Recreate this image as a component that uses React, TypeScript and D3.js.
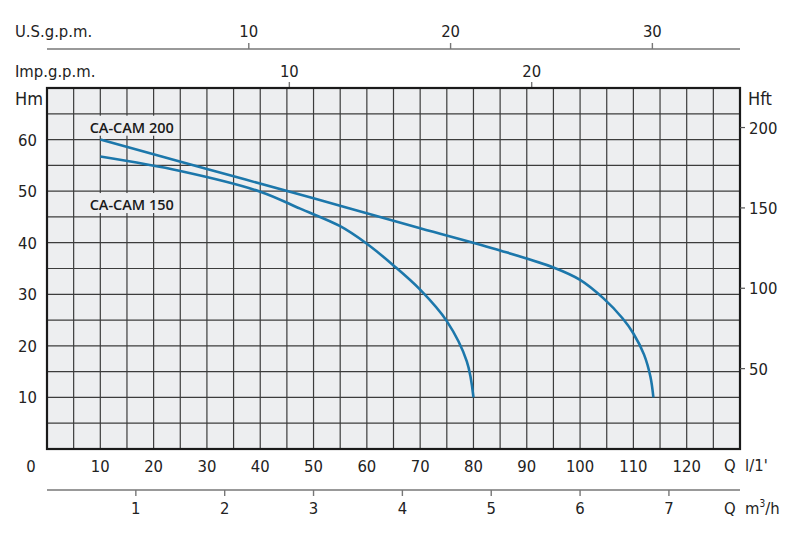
import React from "react";
import * as d3 from "d3";

const qTicks = [10, 20, 30, 40, 50, 60, 70, 80, 90, 100, 110, 120];
const hmTicks = [10, 20, 30, 40, 50, 60];
const hftTicks = [50, 100, 150, 200];
const usTicks = [10, 20, 30];
const impTicks = [10, 20];
const m3hTicks = [1, 2, 3, 4, 5, 6, 7];

const cam200Q = [10, 30, 50, 70, 85, 95, 100, 104.4, 108, 110, 112, 113.2, 113.75];
const cam200H = [60, 54.3, 48.6, 42.8, 38.5, 35.2, 32.8, 29.2, 25.3, 22.4, 18.3, 14, 10];
const cam150Q = [10, 25, 40, 47.5, 55, 60, 65, 70, 75, 78.75, 80];
const cam150H = [56.7, 53.9, 49.9, 46.6, 43.2, 39.8, 35.6, 30.9, 24.8, 17, 10];

const curves = [
  { name: "CA-CAM 200", q: cam200Q, h: cam200H, labelQ: 8, labelH: 62.5 },
  { name: "CA-CAM 150", q: cam150Q, h: cam150H, labelQ: 8, labelH: 47.5 },
];

const W = 800;
const H = 539;
const L = 47;
const R = 740;
const T = 88;
const B = 449;

const FONT = "'DejaVu Sans', sans-serif";
const TXT = "#222";

export default function App() {
  const x = d3.scaleLinear().domain([0, 130]).range([L, R]);
  const y = d3.scaleLinear().domain([0, 70]).range([B, T]);
  const yft = d3.scaleLinear().domain([0, 224.6]).range([B, T]);
  const xUS = d3.scaleLinear().domain([0, 130 / 3.78541]).range([L, R]);
  const xImp = d3.scaleLinear().domain([0, 130 / 4.54609]).range([L, R]);
  const xM3 = d3.scaleLinear().domain([0, 130 * 0.06]).range([L, R]);

  const vGrid = d3.range(5, 130, 5);
  const hGrid = d3.range(5, 70, 5);

  const line = d3
    .line<[number, number]>()
    .x((d) => x(d[0]))
    .y((d) => y(d[1]))
    .curve(d3.curveCatmullRom.alpha(0.5));

  const usY = 49;
  const m3Y = 490;
  const txt = { fontSize: 16.5, fill: TXT, fontStretch: "condensed" as const };

  return (
    <svg
      width={W}
      height={H}
      style={{ position: "absolute", left: 0, top: 0, background: "#fff" }}
      fontFamily={FONT}
    >
      {/* US gpm axis */}
      <text x={15} y={37} {...txt}>U.S.g.p.m.</text>
      <line x1={L} x2={R} y1={usY} y2={usY} stroke="#777" strokeWidth={1.6} />
      {usTicks.map((t) => (
        <g key={"us" + t}>
          <line x1={xUS(t)} x2={xUS(t)} y1={usY - 6} y2={usY} stroke="#777" strokeWidth={1.4} />
          <text x={xUS(t)} y={37} {...txt} textAnchor="middle">{t}</text>
        </g>
      ))}

      {/* Imp gpm axis */}
      <text x={15} y={77} {...txt}>Imp.g.p.m.</text>
      {impTicks.map((t) => (
        <g key={"imp" + t}>
          <line x1={xImp(t)} x2={xImp(t)} y1={T - 6} y2={T} stroke="#777" strokeWidth={1.4} />
          <text x={xImp(t)} y={77} {...txt} textAnchor="middle">{t}</text>
        </g>
      ))}

      {/* plot background */}
      <rect x={L} y={T} width={R - L} height={B - T} fill="#edeef0" />
      {vGrid.map((v) => (
        <line key={"v" + v} x1={x(v)} x2={x(v)} y1={T} y2={B} stroke="#3c3c3c" strokeWidth={1.2} />
      ))}
      {hGrid.map((v) => (
        <line key={"h" + v} x1={L} x2={R} y1={y(v)} y2={y(v)} stroke="#3c3c3c" strokeWidth={1.2} />
      ))}

      {/* curve labels with background */}
      {curves.map((c) => (
        <g key={"lab" + c.name}>
          <rect x={x(c.labelQ) - 3} y={y(c.labelH) - 11} width={90} height={20} fill="#edeef0" />
          <text
            x={x(c.labelQ)}
            y={y(c.labelH) + 6}
            fontSize={14.5}
            fontWeight={600}
            fontFamily="'Open Sans', sans-serif"
            fill="#1a1a1a"
          >
            {c.name}
          </text>
        </g>
      ))}

      {/* curves */}
      {curves.map((c) => (
        <path
          key={c.name}
          d={line(c.q.map((q, i) => [q, c.h[i]] as [number, number])) || ""}
          fill="none"
          stroke="#1c77ab"
          strokeWidth={2.6}
        />
      ))}

      {/* border */}
      <rect x={L} y={T} width={R - L} height={B - T} fill="none" stroke="#1a1a1a" strokeWidth={2.2} />

      {/* left axis */}
      <text x={15} y={105} {...txt} fontSize={18}>Hm</text>
      {hmTicks.map((t) => (
        <text key={"hm" + t} x={37} y={y(t) + 6} {...txt} textAnchor="end">{t}</text>
      ))}

      {/* right axis */}
      <text x={748} y={105} {...txt} fontSize={18}>Hft</text>
      {hftTicks.map((t) => (
        <g key={"hft" + t}>
          <line x1={R} x2={R + 5} y1={yft(t)} y2={yft(t)} stroke="#555" strokeWidth={1.2} />
          <text x={749} y={yft(t) + 6} {...txt}>{t}</text>
        </g>
      ))}

      {/* bottom Q l/1' */}
      <text x={31} y={472} {...txt} textAnchor="middle">0</text>
      {qTicks.map((t) => (
        <text key={"q" + t} x={x(t)} y={472} {...txt} textAnchor="middle">{t}</text>
      ))}
      <text x={724} y={471} {...txt} xmlSpace="preserve">Q  l/1'</text>

      {/* m3/h axis */}
      <line x1={L} x2={R} y1={m3Y} y2={m3Y} stroke="#777" strokeWidth={1.6} />
      {m3hTicks.map((t) => (
        <g key={"m3" + t}>
          <line x1={xM3(t)} x2={xM3(t)} y1={m3Y} y2={m3Y + 6} stroke="#777" strokeWidth={1.4} />
          <text x={xM3(t)} y={514} {...txt} textAnchor="middle">{t}</text>
        </g>
      ))}
      <text x={724} y={514} {...txt} xmlSpace="preserve">
        Q  m<tspan dy={-7} fontSize={10}>3</tspan><tspan dy={7}>/h</tspan>
      </text>
    </svg>
  );
}
